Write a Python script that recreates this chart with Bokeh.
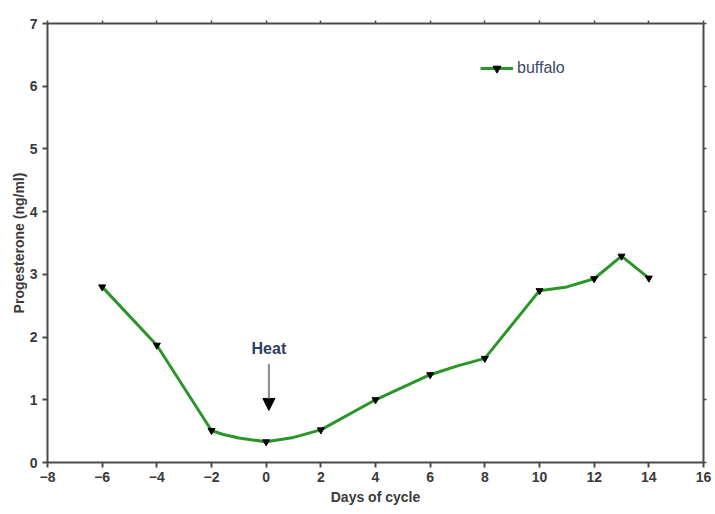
from bokeh.plotting import figure
from bokeh.models import (Range1d, LinearAxis, Label, Arrow, NormalHead, Legend, LegendItem,
                          FixedTicker, CustomLabelingPolicy)
from bokeh.embed import file_html
from bokeh.resources import INLINE

# data
days_line = [-6, -4, -2, -1.6, -1, 0, 1, 2, 4, 6, 7, 8, 10, 11, 12, 13, 14]
prog_line = [2.8, 1.87, 0.51, 0.45, 0.39, 0.33, 0.40, 0.52, 1.0, 1.4, 1.54, 1.66, 2.74, 2.8, 2.93, 3.29, 2.94]
days_mark = [-6, -4, -2, 0, 2, 4, 6, 8, 10, 12, 13, 14]
prog_mark = [2.8, 1.87, 0.51, 0.33, 0.52, 1.0, 1.4, 1.66, 2.74, 2.93, 3.29, 2.94]
x_ticks = [-8, -6, -4, -2, 0, 2, 4, 6, 8, 10, 12, 14, 16]
y_ticks = [0, 1, 2, 3, 4, 5, 6, 7]
series_name = "buffalo"
heat_day = 0.1

FONT = "Liberation Sans"
AX = "#4a4a4a"
TXT = "#3a3a3a"

p = figure(width=715, height=514, output_backend="svg", toolbar_location=None,
           x_range=Range1d(-8, 16), y_range=Range1d(0, 7),
           min_border_left=47, min_border_right=8, min_border_top=23, min_border_bottom=52)
p.grid.visible = False
p.outline_line_color = None
p.background_fill_color = "white"

for ax, ticks in ((p.xaxis[0], x_ticks), (p.yaxis[0], y_ticks)):
    ax.ticker = FixedTicker(ticks=ticks)
    ax.axis_line_color = AX
    ax.axis_line_width = 2
    ax.major_tick_line_color = AX
    ax.major_tick_line_width = 2
    ax.major_tick_out = 5
    ax.major_tick_in = 0
    ax.minor_tick_line_color = None
    ax.major_label_text_font = FONT
    ax.major_label_text_font_style = "bold"
    ax.major_label_text_font_size = "14px"
    ax.major_label_text_color = TXT
    ax.axis_label_text_font = FONT
    ax.axis_label_text_font_style = "bold"
    ax.axis_label_text_font_size = "14px"
    ax.axis_label_text_color = TXT

p.xaxis[0].axis_label = "Days of cycle"
p.xaxis[0].axis_label_standoff = 4
p.yaxis[0].axis_label = "Progesterone (ng/ml)"
p.yaxis[0].axis_label_standoff = 0
p.yaxis[0].major_label_standoff = 5
p.xaxis[0].major_label_standoff = 4

no_labels = "for (const i of Array.from(indices)) { indices.unset(i) }\nreturn indices"

top = LinearAxis(ticker=FixedTicker(ticks=x_ticks),
                 major_label_policy=CustomLabelingPolicy(code=no_labels),
                 major_label_standoff=0,
                 axis_line_color=AX, axis_line_width=2, major_tick_line_color=AX,
                 major_tick_line_width=1.5, major_tick_out=3, major_tick_in=0,
                 minor_tick_line_color=None)
right = LinearAxis(ticker=FixedTicker(ticks=y_ticks),
                   major_label_policy=CustomLabelingPolicy(code=no_labels),
                   major_label_standoff=0,
                   axis_line_color=AX, axis_line_width=2, major_tick_line_color=AX,
                   major_tick_line_width=1.5, major_tick_out=3, major_tick_in=0,
                   minor_tick_line_color=None)
p.add_layout(top, "above")
p.add_layout(right, "right")

GREEN = "#2a9628"
ln = p.line(days_line, prog_line, line_color=GREEN, line_width=3)
mk = p.scatter(days_mark, prog_mark, marker="inverted_triangle", size=7,
               fill_color="black", line_color="black")

legend = Legend(items=[LegendItem(label=series_name, renderers=[ln, mk])],
                location=(433, 384), padding=0, margin=0, glyph_width=33,
                label_standoff=4, border_line_color=None, background_fill_alpha=0,
                label_text_font=FONT, label_text_font_size="16px",
                label_text_color="#3b4a6b")
p.add_layout(legend)

p.add_layout(Arrow(x_start=heat_day, y_start=1.57, x_end=heat_day, y_end=0.83,
                   line_color="#8a8a8a", line_width=2,
                   end=NormalHead(size=12, fill_color="black", line_color="black")))
p.add_layout(Label(x=heat_day, y=1.68, text="Heat", text_align="center",
                   text_baseline="bottom", text_font=FONT, text_font_style="bold",
                   text_font_size="16px", text_color="#2e3e5e"))

open("out.html", "w").write(file_html(p, INLINE))
